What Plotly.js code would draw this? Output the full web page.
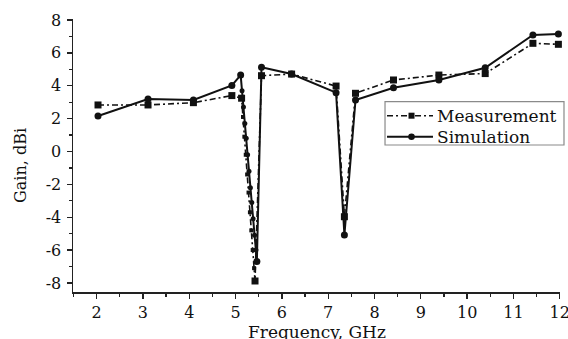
<!DOCTYPE html>
<html>
<head>
<meta charset="utf-8">
<script src="https://cdn.plot.ly/plotly-3.0.1.min.js"></script>
<style>
  html, body { margin: 0; padding: 0; background: #fff; }
  #chart { width: 568px; height: 339px; }
</style>
</head>
<body>
<div id="chart"></div>
<script>
// Antenna gain versus frequency: measured and simulated
const measFreq = [2.03, 3.11, 4.09, 4.92, 5.13, 5.42, 5.56, 6.21, 7.17, 7.35, 7.59, 8.41, 9.39, 10.39, 11.42, 11.97];
const measGain = [2.83, 2.83, 2.97, 3.40, 3.24, -7.88, 4.61, 4.71, 3.98, -3.97, 3.54, 4.35, 4.65, 4.74, 6.58, 6.52];

const simFreq = [2.03, 3.11, 4.09, 4.92, 5.11, 5.46, 5.56, 6.21, 7.17, 7.35, 7.59, 8.41, 9.39, 10.39, 11.42, 11.97];
const simGain = [2.16, 3.19, 3.13, 4.02, 4.65, -6.70, 5.12, 4.71, 3.58, -5.08, 3.13, 3.88, 4.35, 5.09, 7.09, 7.15];

// densely sampled points on the falling edge of the 5.4 GHz notch
const measNotchFreq = [5.16, 5.19, 5.22, 5.25, 5.28, 5.31, 5.34, 5.37, 5.40];
const measNotchGain = [2.1, 0.9, -0.2, -1.4, -2.5, -3.7, -4.8, -6.0, -7.1];
const simNotchFreq = [5.14, 5.17, 5.20, 5.23, 5.26, 5.29, 5.32, 5.35, 5.38, 5.41, 5.44];
const simNotchGain = [3.7, 2.7, 1.7, 0.8, -0.2, -1.2, -2.2, -3.1, -4.1, -5.1, -6.0];

const seriesNames = ['Measurement', 'Simulation'];
const xTitle = 'Frequency, GHz';
const yTitle = 'Gain, dBi';
const yTickVals = [-8, -6, -4, -2, 0, 2, 4, 6, 8];
const yTickText = ['-8', '-6', '-4', '-2', '0', '2', '4', '6', '8'];
const xTickVals = [2, 3, 4, 5, 6, 7, 8, 9, 10, 11, 12];
const xTickText = ['2', '3', '4', '5', '6', '7', '8', '9', '10', '11', '12'];

const serif = 'DejaVu Serif, Liberation Serif, serif';
const ink = '#111';
const measDash = '6px,3px,2px,3px';

const traces = [
  {
    x: measFreq, y: measGain, name: seriesNames[0],
    type: 'scatter', mode: 'lines+markers',
    line: { color: ink, width: 1.6, dash: measDash },
    marker: { symbol: 'square', size: 7, color: ink },
    cliponaxis: false
  },
  {
    x: simFreq, y: simGain, name: seriesNames[1],
    type: 'scatter', mode: 'lines+markers',
    line: { color: ink, width: 2 },
    marker: { symbol: 'circle', size: 7, color: ink },
    cliponaxis: false
  },
  {
    x: measNotchFreq, y: measNotchGain, type: 'scatter', mode: 'markers',
    marker: { symbol: 'square', size: 4, color: ink }, showlegend: false
  },
  {
    x: simNotchFreq, y: simNotchGain, type: 'scatter', mode: 'markers',
    marker: { symbol: 'circle', size: 5, color: ink }, showlegend: false
  }
];

// hand-placed legend box (paper coordinates)
const legendBox = { x0: 0.6407, x1: 1.0082, y0: 0.5385, y1: 0.6971 };
const legendRows = [0.6458, 0.5689];
const sampleX = [0.6448, 0.7392];
const sampleMarkX = 0.6951;
const legendTextX = 0.7430;

const shapes = [
  {
    type: 'rect', xref: 'paper', yref: 'paper',
    x0: legendBox.x0, x1: legendBox.x1, y0: legendBox.y0, y1: legendBox.y1,
    line: { color: '#8a8a8a', width: 1.2 }, fillcolor: '#fff', layer: 'above'
  },
  {
    type: 'line', xref: 'paper', yref: 'paper',
    x0: sampleX[0], x1: sampleX[1], y0: legendRows[0], y1: legendRows[0],
    line: { color: ink, width: 1.6, dash: measDash }, layer: 'above'
  },
  {
    type: 'rect', xref: 'paper', yref: 'paper', layer: 'above',
    xsizemode: 'pixel', ysizemode: 'pixel', xanchor: sampleMarkX, yanchor: legendRows[0],
    x0: -3, x1: 3, y0: -3, y1: 3, line: { width: 0 }, fillcolor: ink
  },
  {
    type: 'line', xref: 'paper', yref: 'paper',
    x0: sampleX[0], x1: sampleX[1], y0: legendRows[1], y1: legendRows[1],
    line: { color: ink, width: 2 }, layer: 'above'
  },
  {
    type: 'circle', xref: 'paper', yref: 'paper', layer: 'above',
    xsizemode: 'pixel', ysizemode: 'pixel', xanchor: sampleMarkX, yanchor: legendRows[1],
    x0: -3.3, x1: 3.3, y0: -3.3, y1: 3.3, line: { width: 0 }, fillcolor: ink
  }
];

const annotations = seriesNames.map((name, i) => ({
  xref: 'paper', yref: 'paper', x: legendTextX, y: legendRows[i],
  xanchor: 'left', yanchor: 'middle', showarrow: false,
  text: name, font: { family: serif, size: 17, color: ink }
}));

// axis titles, placed below / left of the tick labels
annotations.push({
  xref: 'paper', yref: 'paper', x: 0.5, y: 0, xanchor: 'center', yanchor: 'top',
  yshift: -28, showarrow: false, text: xTitle,
  font: { family: serif, size: 17, color: ink }
});
annotations.push({
  xref: 'paper', yref: 'paper', x: -0.1088, y: 0.4615, xanchor: 'center', yanchor: 'middle',
  textangle: -90, showarrow: false, text: yTitle,
  font: { family: serif, size: 16, color: ink }
});

const axisCommon = {
  showgrid: false, zeroline: false,
  showline: true, linecolor: '#222', linewidth: 1.5,
  ticks: 'outside', ticklen: 5, tickwidth: 1.3, tickcolor: '#222',
  tickfont: { family: serif, size: 16, color: ink },
  tickmode: 'array',
  ticklabeloverflow: 'allow'
};

const layout = {
  width: 568, height: 339,
  margin: { l: 73, r: 8, t: 19, b: 47 },
  paper_bgcolor: '#fff', plot_bgcolor: '#fff',
  showlegend: false,
  shapes: shapes,
  annotations: annotations,
  xaxis: Object.assign({}, axisCommon, {
    range: [1.49, 12.005], tickvals: xTickVals, ticktext: xTickText,
    minor: { tickmode: 'linear', tick0: 1.5, dtick: 1, ticks: 'outside', ticklen: 3, tickcolor: '#222', tickwidth: 1.2 }
  }),
  yaxis: Object.assign({}, axisCommon, {
    range: [-8.55, 8.06], tickvals: yTickVals, ticktext: yTickText,
    minor: { tickmode: 'linear', tick0: -7, dtick: 2, ticks: 'outside', ticklen: 3, tickcolor: '#222', tickwidth: 1.2 },
    ticklabelstandoff: 2
  })
};

Plotly.newPlot('chart', traces, layout, { displayModeBar: false, staticPlot: true });
</script>
</body>
</html>
